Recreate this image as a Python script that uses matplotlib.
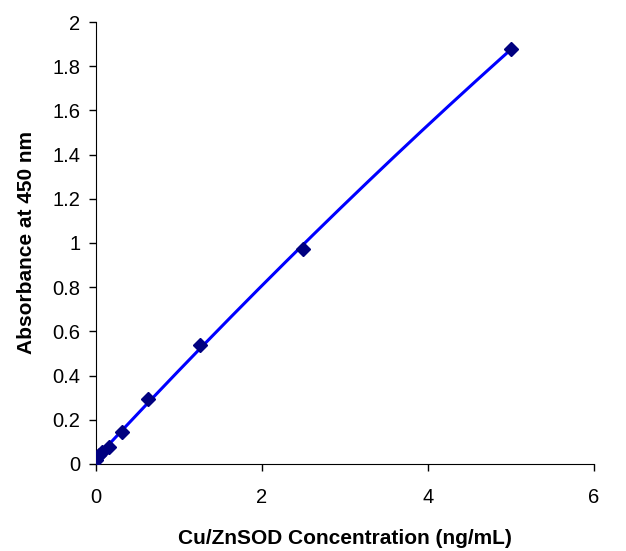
import matplotlib
matplotlib.use("Agg")
import matplotlib.pyplot as plt
import numpy as np

plt.rcParams["font.family"] = ["Liberation Sans", "DejaVu Sans"]

conc = [0, 0.039, 0.078, 0.156, 0.3125, 0.625, 1.25, 2.5, 5.0]
absorb = [0.02, 0.04, 0.055, 0.077, 0.145, 0.294, 0.54, 0.973, 1.88]

fig = plt.figure(figsize=(6.26, 5.51), dpi=100)
ax = fig.add_axes([0.153, 0.158, 0.796, 0.802])

# 二次趨勢線
coef = np.polyfit(conc, absorb, 2)
xs = np.linspace(0, 5, 200)
ax.plot(xs, np.polyval(coef, xs), color="#0000ff", lw=2.2, zorder=2)
ax.plot(conc, absorb, ls="none", marker="D", ms=7, color="#000080", zorder=3)

ax.set_xlim(0, 6)
ax.set_ylim(0, 2)
ax.set_xticks([0, 2, 4, 6])
ax.set_yticks(np.arange(0, 2.01, 0.2))
ax.set_yticklabels(["0", "0.2", "0.4", "0.6", "0.8", "1", "1.2", "1.4", "1.6", "1.8", "2"])
ax.tick_params(direction="out", length=5, width=1, labelsize=14.5, pad=6)
ax.tick_params(axis="x", pad=12)
for s in ["top", "right"]:
    ax.spines[s].set_visible(False)

ax.set_xlabel("Cu/ZnSOD Concentration (ng/mL)", fontsize=15, fontweight="bold", labelpad=16)
ax.set_ylabel("Absorbance at 450 nm", fontsize=15, fontweight="bold", labelpad=12)

fig.savefig("out.png", dpi=100)
